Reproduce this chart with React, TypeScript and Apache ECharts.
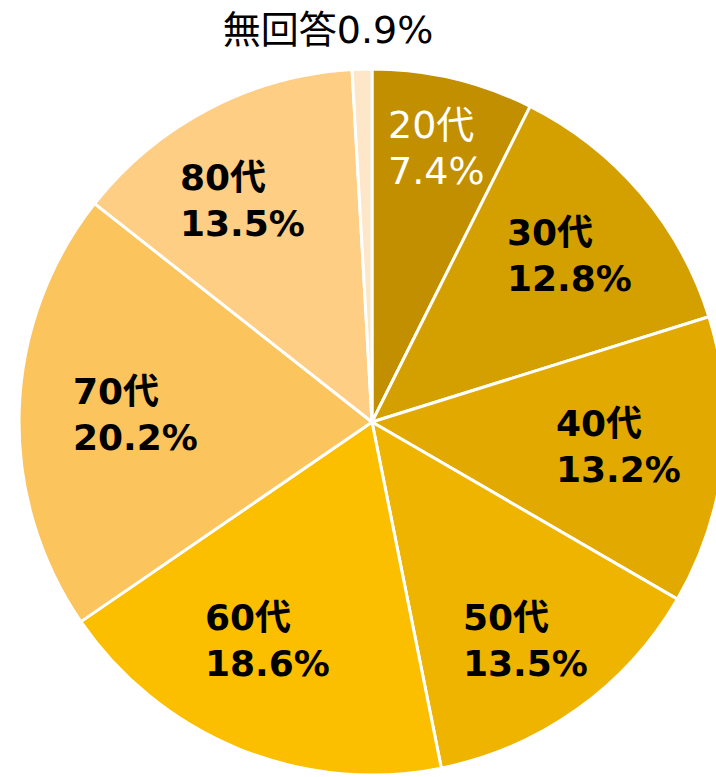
import React, { useEffect, useRef } from "react";
import * as echarts from "echarts";

const categories = ["20代", "30代", "40代", "50代", "60代", "70代", "80代", "無回答"];
const values = [7.4, 12.8, 13.2, 13.5, 18.6, 20.2, 13.5, 0.9];
const colors = ["#C18F00", "#D4A000", "#E2AA00", "#EFB400", "#FBBF00", "#FBC45C", "#FDCE84", "#FEE6C8"];
// label anchor points (left, vertical middle) for the text blocks
const labelAnchors: [number, number][] = [
  [388, 148],
  [507, 255],
  [556, 446],
  [463, 640],
  [205, 640],
  [73, 414],
  [180, 200],
  [328, 30],
];

export default function App() {
  const ref = useRef<HTMLDivElement>(null);
  useEffect(() => {
    if (!ref.current) return;
    const chart = echarts.init(ref.current, null, { renderer: "svg" });
    const font = "'DejaVu Sans', 'Noto Sans CJK JP', sans-serif";
    chart.setOption({
      animation: false,
      backgroundColor: "#ffffff",
      series: [
        {
          type: "pie",
          center: [372, 422],
          radius: [0, 353],
          startAngle: 90,
          clockwise: true,
          avoidLabelOverlap: false,
          itemStyle: { borderColor: "#ffffff", borderWidth: 3 },
          labelLine: { show: false },
          label: {
            show: true,
            position: "inside",
            fontFamily: font,
            fontSize: 36,
            lineHeight: 46,
            fontWeight: "bold",
            color: "#000000",
            formatter: (p: any) => `${p.name}\n${p.value}%`,
          },
          labelLayout: (p: any) => {
            const i = p.dataIndex;
            const a = labelAnchors[i];
            return {
              x: a[0],
              y: a[1],
              align: i === 7 ? "center" : "left",
              verticalAlign: "middle",
            };
          },
          data: categories.map((c, i) => {
            const d: any = { name: c, value: values[i], itemStyle: { color: colors[i] } };
            if (i === 0) d.label = { color: "#ffffff", fontWeight: "normal", fontSize: 38 };
            if (i === 7)
              d.label = {
                position: "outside",
                fontWeight: "normal",
                fontSize: 38,
                formatter: (p: any) => `${p.name}${p.value}%`,
              };
            return d;
          }),
        },
      ],
    });
    return () => chart.dispose();
  }, []);
  return (
    <div
      ref={ref}
      style={{ position: "absolute", left: 0, top: 0, width: 716, height: 777 }}
    />
  );
}
